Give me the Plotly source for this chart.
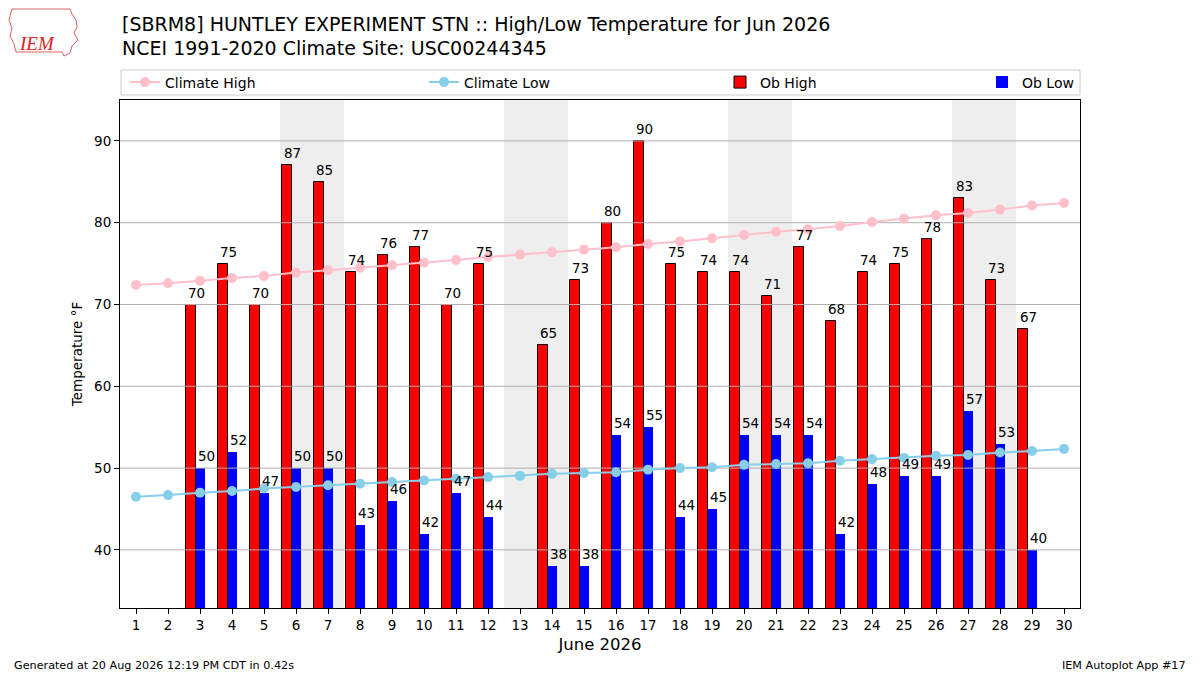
import plotly.graph_objects as go

# ---------------- data ----------------
days = list(range(1, 31))
ob_high = [None, None, 70, 75, 70, 87, 85, 74, 76, 77, 70, 75, None, 65, 73,
           80, 90, 75, 74, 74, 71, 77, 68, 74, 75, 78, 83, 73, 67, None]
ob_low = [None, None, 50, 52, 47, 50, 50, 43, 46, 42, 47, 44, None, 38, 38,
          54, 55, 44, 45, 54, 54, 54, 42, 48, 49, 49, 57, 53, 40, None]
clim_high = [72.4, 72.6, 72.9, 73.25, 73.5, 73.9, 74.2, 74.5, 74.8, 75.1,
             75.45, 75.8, 76.1, 76.4, 76.7, 77.0, 77.4, 77.7, 78.1, 78.5,
             78.9, 79.2, 79.6, 80.1, 80.5, 80.9, 81.2, 81.6, 82.1, 82.4]
clim_low = [46.5, 46.7, 47.0, 47.2, 47.5, 47.7, 47.9, 48.1, 48.3, 48.5,
            48.7, 48.9, 49.05, 49.3, 49.4, 49.5, 49.8, 50.0, 50.1, 50.4,
            50.5, 50.6, 50.9, 51.1, 51.25, 51.5, 51.6, 51.9, 52.1, 52.35]
weekend_starts = [6, 13, 20, 27]   # Saturdays (Sat+Sun shaded)
y_ticks = [40, 50, 60, 70, 80, 90]

title1 = "[SBRM8] HUNTLEY EXPERIMENT STN :: High/Low Temperature for Jun 2026"
title2 = "NCEI 1991-2020 Climate Site: USC00244345"
footer_left = "Generated at 20 Aug 2026 12:19 PM CDT in 0.42s"
footer_right = "IEM Autoplot App #17"

# ---------------- layout constants ----------------
W, H = 1200, 675
L, R, T, B = 120, 120, 100, 67
PW, PH = W - L - R, H - T - B
FONT = "DejaVu Sans"
X_RANGE = [0.5, 30.5]
Y_RANGE = [32.9, 95]
HIGH_OFF, LOW_OFF, BAR_W = -0.44, -0.14, 0.30


def px(x):
    return (x - L) / PW


def py(y):
    return (H - B - y) / PH


fig = go.Figure()

hx = [d for d, v in zip(days, ob_high) if v is not None]
hy = [v for v in ob_high if v is not None]
lx = [d for d, v in zip(days, ob_low) if v is not None]
ly = [v for v in ob_low if v is not None]

fig.add_trace(go.Bar(x=hx, y=hy, name="Ob High", offset=HIGH_OFF, width=BAR_W,
                     marker=dict(color="#ff0000", line=dict(color="black", width=1)),
                     legend="legend3", base=0))
fig.add_trace(go.Bar(x=lx, y=ly, name="Ob Low", offset=LOW_OFF, width=BAR_W,
                     marker=dict(color="#0000ff", line=dict(color="#0000ff", width=0)),
                     legend="legend4", base=0))

# grid lines drawn above bars, below climate lines (as in reference)
gx, gy = [], []
for t in y_ticks:
    gx += [X_RANGE[0], X_RANGE[1], None]
    gy += [t, t, None]
fig.add_trace(go.Scatter(x=gx, y=gy, mode="lines", showlegend=False,
                         hoverinfo="skip", line=dict(color="#b0b0b0", width=1)))

fig.add_trace(go.Scatter(x=days, y=clim_high, name="Climate High", mode="lines+markers",
                         line=dict(color="#ffc0cb", width=2),
                         marker=dict(color="#ffc0cb", size=10), legend="legend"))
fig.add_trace(go.Scatter(x=days, y=clim_low, name="Climate Low", mode="lines+markers",
                         line=dict(color="#87ceeb", width=2),
                         marker=dict(color="#87ceeb", size=10), legend="legend2"))

shapes = []
for d in weekend_starts:
    shapes.append(dict(type="rect", xref="x", yref="paper", x0=d - 0.5, x1=d + 1.5,
                       y0=0, y1=1, fillcolor="#eeeeee", line=dict(width=0),
                       layer="below"))
# legend frame
shapes.append(dict(type="rect", xref="paper", yref="paper", x0=px(121), x1=px(1080),
                   y0=py(95), y1=py(70), fillcolor="white",
                   line=dict(color="#cccccc", width=1), layer="below"))
# simple IEM logo outline (state outline)
logo_pts = [(12, 9), (70, 9), (72, 14), (76, 20), (77, 27), (74, 33), (78, 40),
            (72, 46), (70, 53), (64, 56), (62, 52), (16, 52), (14, 44), (10, 36),
            (12, 28), (9, 20), (12, 9)]
path = "M " + " L ".join(f"{px(a):.5f},{py(b):.5f}" for a, b in logo_pts) + " Z"
shapes.append(dict(type="path", xref="paper", yref="paper", path=path,
                   line=dict(color="#e06060", width=1), fillcolor="rgba(0,0,0,0)"))

annotations = []
for d, v in zip(days, ob_high):
    if v is not None:
        annotations.append(dict(x=d + HIGH_OFF, y=v, text=str(v), showarrow=False,
                                xanchor="left", yanchor="bottom", yshift=2,
                                font=dict(family=FONT, size=13.5, color="black")))
for d, v in zip(days, ob_low):
    if v is not None:
        annotations.append(dict(x=d + LOW_OFF, y=v, text=str(v), showarrow=False,
                                xanchor="left", yanchor="bottom", yshift=2,
                                font=dict(family=FONT, size=13.5, color="black")))

annotations += [
    dict(xref="paper", yref="paper", x=0, y=py(24), text=title1, showarrow=False,
         xanchor="left", yanchor="middle", font=dict(family=FONT, size=19, color="black")),
    dict(xref="paper", yref="paper", x=0, y=py(48), text=title2, showarrow=False,
         xanchor="left", yanchor="middle", font=dict(family=FONT, size=19, color="black")),
    dict(xref="paper", yref="paper", x=px(12), y=py(665), text=footer_left, showarrow=False,
         xanchor="left", yanchor="middle", font=dict(family=FONT, size=11.2, color="black")),
    dict(xref="paper", yref="paper", x=px(1188), y=py(665), text=footer_right, showarrow=False,
         xanchor="right", yanchor="middle", font=dict(family=FONT, size=11.2, color="black")),
    dict(xref="paper", yref="paper", x=px(37), y=py(44), text="<i>IEM</i>", showarrow=False,
         xanchor="center", yanchor="middle",
         font=dict(family="Liberation Serif", size=19, color="#e02020")),
]


def leg(xpix):
    return dict(orientation="h", x=px(xpix), y=py(82.5), xanchor="left", yanchor="middle",
                bgcolor="rgba(0,0,0,0)", borderwidth=0,
                font=dict(family=FONT, size=14, color="black"))


fig.update_layout(
    width=W, height=H,
    margin=dict(l=L, r=R, t=T, b=B, autoexpand=False),
    paper_bgcolor="white", plot_bgcolor="white",
    font=dict(family=FONT, size=13, color="black"),
    barmode="overlay", bargap=0,
    showlegend=True,
    legend=leg(125), legend2=leg(424), legend3=leg(720), legend4=leg(982),
    shapes=shapes, annotations=annotations,
    xaxis=dict(range=X_RANGE, tickvals=days, ticktext=[str(d) for d in days],
               ticks="outside", ticklen=5, tickcolor="black", showgrid=False,
               showline=True, linecolor="black", linewidth=1, mirror=True, zeroline=False,
               title=dict(text="June 2026", font=dict(family=FONT, size=16.5), standoff=6),
               tickfont=dict(family=FONT, size=13.5)),
    yaxis=dict(range=Y_RANGE, tickvals=y_ticks, ticks="outside", ticklen=5,
               tickcolor="black", showgrid=False, showline=True, linecolor="black",
               linewidth=1, mirror=True, zeroline=False,
               title=dict(text="Temperature °F", font=dict(family=FONT, size=13.5), standoff=8),
               tickfont=dict(family=FONT, size=13.5)),
)

fig.write_html("out.html", config={"displayModeBar": False},
               post_script="document.body.style.margin='0';document.body.style.padding='0';")
